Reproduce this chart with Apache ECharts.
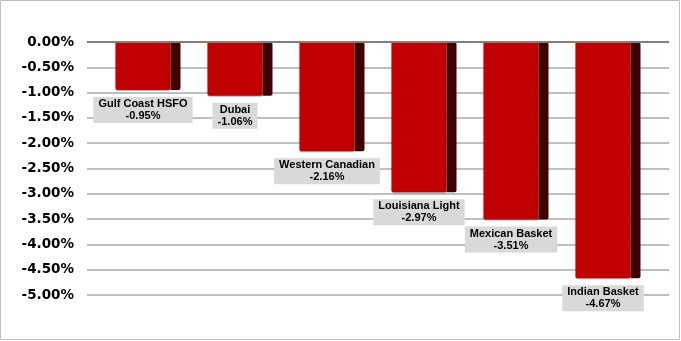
<!DOCTYPE html>
<html>
<head>
<meta charset="utf-8">
<script src="https://cdn.jsdelivr.net/npm/echarts@6/dist/echarts.min.js"></script>
<style>
html,body{margin:0;padding:0;background:#fff;}
#c{width:681px;height:341px;}
</style>
</head>
<body>
<div id="c"></div>
<script>
const categories = ['Gulf Coast HSFO', 'Dubai', 'Western Canadian', 'Louisiana Light', 'Mexican Basket', 'Indian Basket'];
const values = [-0.95, -1.06, -2.16, -2.97, -3.51, -4.67];
const yMin = -5, yMax = 0, yStep = 0.5;

const chart = echarts.init(document.getElementById('c'), null, {renderer: 'canvas'});
chart.setOption({
  animation: false,
  backgroundColor: '#ffffff',
  graphic: [{
    type: 'rect', silent: true, z: -10,
    shape: {x: 0.5, y: 0.5, width: 679, height: 339},
    style: {fill: 'none', stroke: '#bfbfbf', lineWidth: 1}
  }],
  grid: [
    {left: 87, right: 12, top: 42, bottom: 46},
    {left: 102, right: 27, top: 42, bottom: 46}
  ],
  xAxis: [
    {type: 'category', gridIndex: 0, data: categories, show: false},
    {type: 'category', gridIndex: 1, data: categories, show: false}
  ],
  yAxis: [
    {
      type: 'value', gridIndex: 0, min: yMin, max: yMax, interval: yStep,
      axisLine: {show: false}, axisTick: {show: false},
      axisLabel: {
        margin: 13, color: '#000', fontFamily: '"DejaVu Sans", Verdana, sans-serif', fontWeight: 'bold', fontSize: 13.5,
        formatter: v => v.toFixed(2) + '%'
      },
      splitLine: {lineStyle: {color: '#bfbfbf', width: 2}}
    },
    {type: 'value', gridIndex: 1, min: yMin, max: yMax, interval: yStep, show: false, splitLine: {show: false}}
  ],
  series: [
    {
      type: 'line', xAxisIndex: 0, yAxisIndex: 0, data: [], silent: true,
      markLine: {
        silent: true, symbol: 'none', label: {show: false},
        lineStyle: {color: '#808080', width: 2, type: 'solid'},
        data: [{yAxis: 0}]
      }
    },
    {
      type: 'bar', xAxisIndex: 1, yAxisIndex: 1, data: values,
      barWidth: 55, barGap: '0%',
      itemStyle: {color: '#c00000', borderRadius: [0, 0, 2, 2], shadowColor: 'rgba(0,0,0,0.3)', shadowBlur: 1, shadowOffsetY: 1},
      label: {
        show: true, position: 'bottom', distance: 7,
        backgroundColor: '#d9d9d9', padding: [1, 5, 1, 5],
        color: '#000', fontFamily: '"Liberation Sans", Arial, sans-serif', fontWeight: 'bold', fontSize: 11, lineHeight: 12,
        align: 'center',
        formatter: p => p.name + '\n' + p.value.toFixed(2) + '%'
      },
      z: 3
    },
    {
      type: 'bar', xAxisIndex: 1, yAxisIndex: 1, data: values,
      barWidth: 10, barGap: '0%',
      itemStyle: {color: '#3f0000', borderRadius: [0, 2, 2, 0]},
      z: 2
    }
  ]
});
</script>
</body>
</html>
